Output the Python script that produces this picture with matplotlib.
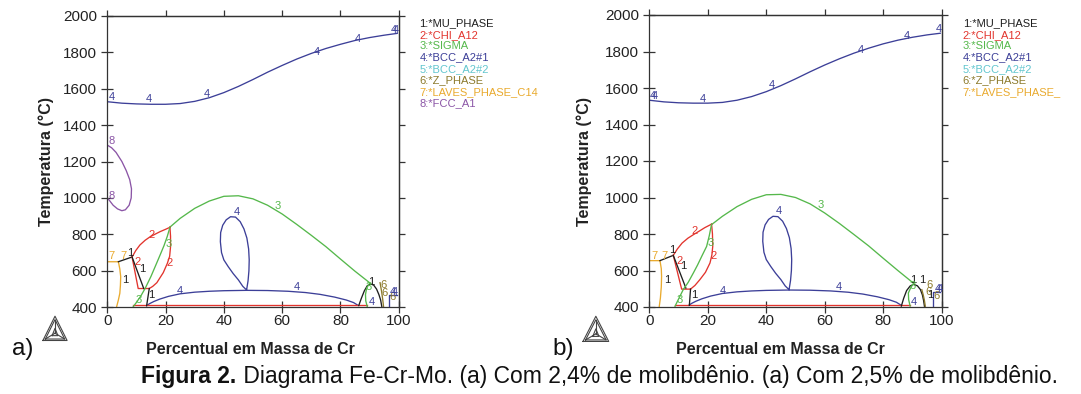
import matplotlib.pyplot as plt

plt.rcParams['font.family'] = ['Liberation Sans', 'DejaVu Sans']

# Thermo-Calc style phase colours
PHASE_COLORS = {1: "#1e1e1e", 2: "#e2342d", 3: "#55b84b", 4: "#3c3f98",
                5: "#62c6cf", 6: "#8c7a2c", 7: "#e9aa2e", 8: "#8b55a6"}

LEGEND_A = ["1:*MU_PHASE", "2:*CHI_A12", "3:*SIGMA", "4:*BCC_A2#1",
            "5:*BCC_A2#2", "6:*Z_PHASE", "7:*LAVES_PHASE_C14", "8:*FCC_A1"]
LEGEND_B = ["1:*MU_PHASE", "2:*CHI_A12", "3:*SIGMA", "4:*BCC_A2#1",
            "5:*BCC_A2#2", "6:*Z_PHASE", "7:*LAVES_PHASE_"]

XTICKS = [0, 20, 40, 60, 80, 100]
YTICKS = [400, 600, 800, 1000, 1200, 1400, 1600, 1800, 2000]

# ---- shared boundaries (both diagrams look almost the same here)
TOP_X = [0, 5, 10, 15, 20, 25, 30, 35, 40, 45, 50, 55, 60, 65, 70, 75, 80, 85, 90, 95, 99.5]
TOP_T_A = [1528, 1520, 1516, 1514, 1514, 1518, 1530, 1550, 1578, 1612, 1650,
           1690, 1727, 1762, 1793, 1820, 1843, 1864, 1880, 1893, 1903]
TOP_T_B = [1533, 1524, 1519, 1517, 1517, 1521, 1533, 1553, 1580, 1613, 1650,
           1689, 1726, 1760, 1791, 1818, 1842, 1862, 1878, 1891, 1900]

SIG_X = [21.5, 25, 30, 35, 40, 45, 50, 55, 60, 65, 70, 75, 80, 85, 90]
SIG_T_A = [840, 888, 943, 983, 1009, 1012, 995, 960, 912, 855, 795, 733, 665, 598, 535]
SIG_T_B = [854, 897, 950, 990, 1015, 1017, 1000, 965, 915, 858, 797, 735, 667, 600, 535]

LOOP_X = [47.8, 46.5, 45, 43.2, 41.5, 40, 39.2, 38.8, 38.9, 39.6, 40.8, 42.3,
          44, 45.6, 46.9, 47.9, 48.5, 48.7, 48.6, 48.3, 47.8]
LOOP_T = [495, 515, 550, 585, 623, 660, 700, 760, 810, 850, 880, 897,
          895, 870, 830, 780, 720, 660, 600, 545, 495]

LOW_X = [13.5, 14.5, 16, 18, 21, 25, 30, 35, 40, 47.8, 55, 62, 68, 73, 78, 82, 84.5, 86.1]
LOW_T = [409, 420, 432, 445, 460, 474, 483, 488, 491, 493, 492, 488, 481, 471, 456, 440, 426, 410]

BASE_X = [8.9, 89]
BASE_T = [410, 410]

# ---- panel a, low Cr corner
FCC_X = [0, 1.5, 3, 5, 6.5, 7.7, 8.3, 8.2, 7.5, 6.2, 5, 3.5, 2, 0.8, 0]
FCC_T = [1290, 1275, 1250, 1200, 1150, 1100, 1050, 1000, 960, 935, 930, 940, 960, 985, 1000]
LAV_X_A = [0, 3.8, 4.3, 4.6, 4.5, 4.3, 3.8, 3.2]
LAV_T_A = [650, 650, 610, 568, 520, 477, 440, 403]
MU1_X_A = [3.8, 8.5]
MU1_T_A = [650, 676]
CHI_ARC_X_A = [8.5, 9.8, 11.2, 13, 14.7, 16.5, 18.1, 20, 21.5]
CHI_ARC_T_A = [676, 712, 742, 768, 787, 802, 815, 828, 839]
CHI_R_X_A = [21.5, 21.7, 21.7, 21.4, 20.6, 19.2, 17.0, 15.6, 14.4]
CHI_R_T_A = [839, 790, 732, 680, 641, 590, 535, 515, 503]
CHI_L_X_A = [8.5, 10.6, 14.4]
CHI_L_T_A = [676, 503, 503]
MU2_X_A = [8.5, 12.5]
MU2_T_A = [676, 503]
MU3_X_A = [14.4, 13.5]
MU3_T_A = [503, 409]
SIG_IN_X_A = [21.5, 20.6, 19.5, 18.2, 16.9, 15.0, 13.0, 11.5, 10.0, 8.9]
SIG_IN_T_A = [839, 790, 740, 690, 641, 570, 504, 462, 427, 403]

# ---- panel a, high Cr corner
DOME_X_A = [86.3, 87.2, 88.2, 89.2, 90.3, 91.4, 92.4, 93.2, 93.8, 94.2]
DOME_T_A = [410, 450, 490, 518, 528, 522, 500, 470, 440, 404]
SIG_R_X_A = [90.0, 89.0, 88.6, 88.7, 89.2]
SIG_R_T_A = [533, 505, 470, 435, 404]
Z_X_A = [93.6, 94.1, 94.5, 94.8]
Z_T_A = [535, 490, 445, 404]
BCC_R_X_A = [99.5, 96.7, 96.7]
BCC_R_T_A = [470, 470, 404]

# ---- panel b, low Cr corner
LAV_X_B = [0, 3.65, 4.1, 4.2, 4.1, 3.8, 3.4]
LAV_T_B = [654, 654, 610, 568, 510, 450, 402]
MU1_X_B = [3.65, 8.2]
MU1_T_B = [654, 683]
CHI_ARC_X_B = [8.2, 9.6, 11.2, 13.2, 15.05, 17, 19, 21.3]
CHI_ARC_T_B = [683, 718, 750, 777, 796, 815, 835, 854]
CHI_R_X_B = [21.3, 21.6, 21.7, 21.4, 20.75, 19.2, 17.3, 15.6, 14.1]
CHI_R_T_B = [854, 800, 732, 685, 641, 590, 550, 518, 498]
CHI_L_X_B = [8.2, 11.06, 14.1]
CHI_L_T_B = [683, 498, 498]
MU2_X_B = [8.2, 12.5]
MU2_T_B = [683, 504]
MU3_X_B = [14.1, 13.7]
MU3_T_B = [498, 409]
SIG_IN_X_B = [21.3, 20.5, 19.6, 18, 16.5, 15.05, 13.3, 11.6, 10.2, 8.8]
SIG_IN_T_B = [854, 790, 732, 680, 630, 586, 535, 495, 450, 404]

# ---- panel b, high Cr corner
DOME_X_B = [86.2, 87.0, 88.0, 89.2, 90.4, 91.7, 92.7, 93.4, 93.8, 94.1]
DOME_T_B = [405, 448, 490, 515, 524, 516, 496, 466, 436, 404]
SIG_R_X_B = [90.4, 89.4, 88.6, 88.7, 89.2]
SIG_R_T_B = [531, 505, 477, 440, 405]
Z_X_B = [93.2, 93.7, 94.1, 94.4]
Z_T_B = [495, 465, 435, 404]
BCC_R_X_B = [99.5, 97.1, 97.1]
BCC_R_T_B = [480, 480, 404]

# curve labels: (phase, x, T)
LABELS_A = [(4, 1.5, 1556), (4, 14.3, 1543), (4, 34, 1568), (4, 72, 1802), (4, 86, 1870),
            (4, 98.3, 1921), (4, 99.0, 1921), (8, 1.5, 1314), (8, 1.5, 1011),
            (3, 58.5, 958), (4, 44.6, 925), (4, 25, 487), (4, 65, 509),
            (7, 1.5, 679), (7, 5.5, 679), (1, 8.0, 700), (2, 10.4, 650), (1, 12.1, 609),
            (2, 15.2, 797), (3, 20.9, 747), (2, 21.2, 641), (1, 6.1, 550), (1, 15.2, 468),
            (3, 10.6, 440), (1, 90.5, 541), (3, 89.8, 510), (4, 90.7, 431),
            (6, 94.7, 520), (6, 95.0, 480), (6, 98, 459), (4, 98.0, 484), (4, 98.7, 484)]
LABELS_B = [(4, 1.3, 1557), (4, 2.0, 1557), (4, 18.2, 1542), (4, 41.8, 1617), (4, 72.4, 1808),
            (4, 88, 1887), (4, 98.9, 1922), (3, 58.7, 960), (4, 44.4, 927), (4, 25.1, 487),
            (4, 64.7, 509), (7, 1.7, 681), (7, 5.1, 681), (1, 7.75, 710), (2, 10.5, 654),
            (1, 11.6, 623), (2, 15.6, 814), (3, 21.1, 750), (2, 21.9, 681), (1, 6.2, 550),
            (1, 15.3, 467), (3, 10.5, 440), (1, 90.3, 548), (1, 93.2, 548), (3, 90, 517),
            (4, 90.3, 429), (6, 95.8, 521), (6, 95.4, 484), (6, 98.3, 460), (1, 96.0, 467),
            (4, 98.5, 497), (4, 99.2, 497)]

CURVES_A = [(4, TOP_X, TOP_T_A), (8, FCC_X, FCC_T), (3, SIG_X, SIG_T_A), (4, LOOP_X, LOOP_T),
            (4, LOW_X, LOW_T), (2, BASE_X, BASE_T), (7, LAV_X_A, LAV_T_A), (1, MU1_X_A, MU1_T_A),
            (2, CHI_ARC_X_A, CHI_ARC_T_A), (2, CHI_R_X_A, CHI_R_T_A), (2, CHI_L_X_A, CHI_L_T_A),
            (1, MU2_X_A, MU2_T_A), (1, MU3_X_A, MU3_T_A), (3, SIG_IN_X_A, SIG_IN_T_A),
            (1, DOME_X_A, DOME_T_A), (3, SIG_R_X_A, SIG_R_T_A), (6, Z_X_A, Z_T_A),
            (4, BCC_R_X_A, BCC_R_T_A)]
CURVES_B = [(4, TOP_X, TOP_T_B), (3, SIG_X, SIG_T_B), (4, LOOP_X, LOOP_T),
            (4, LOW_X, LOW_T), (2, BASE_X, BASE_T), (7, LAV_X_B, LAV_T_B), (1, MU1_X_B, MU1_T_B),
            (2, CHI_ARC_X_B, CHI_ARC_T_B), (2, CHI_R_X_B, CHI_R_T_B), (2, CHI_L_X_B, CHI_L_T_B),
            (1, MU2_X_B, MU2_T_B), (1, MU3_X_B, MU3_T_B), (3, SIG_IN_X_B, SIG_IN_T_B),
            (1, DOME_X_B, DOME_T_B), (3, SIG_R_X_B, SIG_R_T_B), (6, Z_X_B, Z_T_B),
            (4, BCC_R_X_B, BCC_R_T_B)]

W, H = 1081, 394
SPINE = "#333333"


def px_box(x0, y0, x1, y1):
    # pixel box (top-left origin) -> figure fraction rect
    return [x0 / W, 1 - y1 / H, (x1 - x0) / W, (y1 - y0) / H]


def draw_panel(fig, rect, curves, labels, legend, leg_x, ylab_x, xlab_x):
    ax = fig.add_axes(px_box(*rect))
    for phase, xs, ts in curves:
        ax.plot(xs, ts, color=PHASE_COLORS[phase], lw=0.95, solid_joinstyle="round")
    for phase, x, t in labels:
        ax.text(x, t, str(phase), color=PHASE_COLORS[phase], fontsize=8,
                ha="center", va="center")

    ax.set_xlim(0, 100)
    ax.set_ylim(400, 2000)
    ax.set_xticks(XTICKS)
    ax.set_yticks(YTICKS)
    ax.tick_params(direction="inout", length=8, width=0.9, color=SPINE,
                   labelsize=11, labelcolor="#222222")
    ax.tick_params(axis="x", pad=1)
    ax.tick_params(axis="y", pad=3.5)
    for sp in ax.spines.values():
        sp.set_color(SPINE)
        sp.set_linewidth(0.9)

    # outward ticks on top / right, no labels
    top = ax.secondary_xaxis("top")
    top.set_xticks(XTICKS)
    top.tick_params(direction="out", length=4.5, width=0.9, color=SPINE, labeltop=False)
    right = ax.secondary_yaxis("right")
    right.set_yticks(YTICKS)
    right.tick_params(direction="out", length=4.5, width=0.9, color=SPINE, labelright=False)
    for sec in (top, right):
        for sp in sec.spines.values():
            sp.set_color(SPINE)
            sp.set_linewidth(0.9)

    fig.text(ylab_x / W, 1 - 162 / H, "Temperatura (°C)", rotation=90, fontsize=11.5,
             fontweight="bold", ha="center", va="center", color="#222222")
    fig.text(xlab_x / W, 1 - 350 / H, "Percentual em Massa de Cr", fontsize=11.5,
             fontweight="bold", ha="center", va="center", color="#222222")

    for i, name in enumerate(legend):
        phase = int(name.split(":")[0])
        fig.text(leg_x / W, 1 - (23.3 + 11.4 * i) / H, name, fontsize=8,
                 color=PHASE_COLORS[phase], ha="left", va="center")
    return ax


def draw_logo(fig, rect):
    lg = fig.add_axes(px_box(*rect))
    lg.set_xlim(-0.05, 1.05)
    lg.set_ylim(-0.05, 1.05)
    lg.axis("off")
    kw = dict(color="#444444", lw=0.8)
    lg.plot([0, 1, 0.5, 0], [0, 0, 1, 0], **kw)
    lg.plot([0.1, 0.9, 0.5, 0.1], [0.06, 0.06, 0.86, 0.06], **kw)
    c = (0.5, 0.3)
    for vx, vy in [(0.1, 0.06), (0.9, 0.06), (0.5, 0.86)]:
        lg.plot([vx, c[0]], [vy, c[1]], **kw)
    lg.plot([0.38, 0.62, 0.5, 0.38], [0.2, 0.2, 0.5, 0.2], **kw)


fig = plt.figure(figsize=(W / 100, H / 100), dpi=100)

draw_panel(fig, (107.3, 15.7, 398.7, 307.3), CURVES_A, LABELS_A, LEGEND_A,
           leg_x=419.3, ylab_x=46, xlab_x=250)
draw_panel(fig, (649.3, 15.0, 941.7, 307.0), CURVES_B, LABELS_B, LEGEND_B,
           leg_x=962.7, ylab_x=584, xlab_x=780)

draw_logo(fig, (41.7, 315, 68.3, 341.7))
draw_logo(fig, (581.7, 315, 610.0, 342.7))

fig.text(23 / W, 1 - 349 / H, "a)", fontsize=17.5, ha="center", va="center", color="#111111")
fig.text(563 / W, 1 - 349 / H, "b)", fontsize=17.5, ha="center", va="center", color="#111111")

# caption: bold "Figura 2." followed by regular text, centred as a whole
CAP_FS = 16.5
cap_y = 1 - 377 / H
t1 = fig.text(0, cap_y, "Figura 2.", fontsize=CAP_FS, fontweight="bold",
              ha="left", va="center", color="#111111")
t2 = fig.text(0, cap_y, " Diagrama Fe-Cr-Mo. (a) Com 2,4% de molibdênio. (a) Com 2,5% de molibdênio.",
              fontsize=CAP_FS, ha="left", va="center", color="#111111")
r = fig.canvas.get_renderer()
w1 = t1.get_window_extent(r).width
w2 = t2.get_window_extent(r).width
x0 = 599.5 - (w1 + w2) / 2
t1.set_x(x0 / W)
t2.set_x((x0 + w1) / W)

fig.savefig("out.png", dpi=100)
